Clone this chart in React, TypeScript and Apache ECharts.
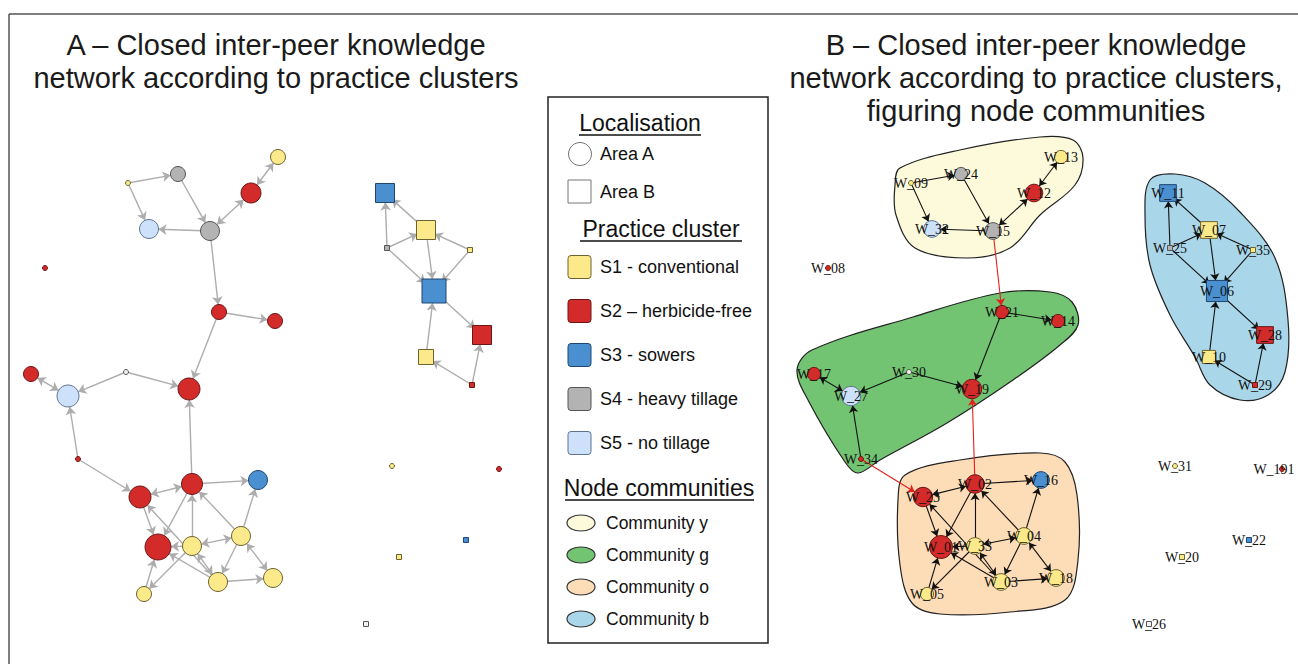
import { useEffect, useRef } from "react";
import * as echarts from "echarts";

// [id, practice cluster, localisation area, x, y, weight]
type NodeRow = [string, string, string, number, number, number];

const NODES: NodeRow[] = [
  ["W_09", "S1", "A", 128, 183, 5],
  ["W_24", "S4", "A", 178, 174, 15],
  ["W_13", "S1", "A", 278, 157, 15],
  ["W_12", "S2", "A", 251, 193, 20],
  ["W_32", "S5", "A", 149, 229, 19],
  ["W_15", "S4", "A", 210, 231, 19],
  ["W_08", "S2", "A", 45, 268, 5],
  ["W_21", "S2", "A", 219, 312, 15],
  ["W_14", "S2", "A", 275, 321, 15],
  ["W_17", "S2", "A", 31, 374, 15],
  ["W_30", "NA", "A", 126, 372, 5],
  ["W_27", "S5", "A", 68, 396, 22],
  ["W_19", "S2", "A", 189, 389, 22],
  ["W_34", "S2", "A", 78, 459, 5],
  ["W_23", "S2", "A", 140, 497, 22],
  ["W_02", "S2", "A", 192, 484, 21],
  ["W_16", "S3", "A", 258, 480, 19],
  ["W_01", "S2", "A", 158, 547, 26],
  ["W_33", "S1", "A", 192, 546, 19],
  ["W_04", "S1", "A", 241, 536, 19],
  ["W_03", "S1", "A", 218, 582, 19],
  ["W_18", "S1", "A", 273, 578, 19],
  ["W_05", "S1", "A", 144, 594, 15],
  ["W_11", "S3", "B", 385, 193, 19],
  ["W_07", "S1", "B", 426, 230, 19],
  ["W_25", "S4", "B", 387, 248, 5],
  ["W_35", "S1", "B", 470, 250, 5],
  ["W_06", "S3", "B", 434, 291, 24],
  ["W_28", "S2", "B", 482, 335, 19],
  ["W_10", "S1", "B", 426, 357, 15],
  ["W_29", "S2", "B", 472, 385, 5],
  ["W_31", "S1", "A", 392, 466, 5],
  ["W_191", "S2", "A", 499, 469, 5],
  ["W_22", "S3", "B", 466, 540, 5],
  ["W_20", "S1", "B", 399, 557, 5],
  ["W_26", "NA", "B", 366, 624, 5],
];

// [source, target, bidirectional, between communities]
type EdgeRow = [string, string, number, number];
const EDGES: EdgeRow[] = [
  ["W_09", "W_24", 0, 0],
  ["W_09", "W_32", 0, 0],
  ["W_24", "W_15", 0, 0],
  ["W_15", "W_32", 0, 0],
  ["W_12", "W_15", 1, 0],
  ["W_13", "W_12", 1, 0],
  ["W_15", "W_21", 0, 1],
  ["W_21", "W_14", 0, 0],
  ["W_21", "W_19", 0, 0],
  ["W_30", "W_19", 0, 0],
  ["W_30", "W_27", 0, 0],
  ["W_27", "W_17", 1, 0],
  ["W_34", "W_27", 0, 0],
  ["W_34", "W_23", 0, 1],
  ["W_02", "W_19", 0, 1],
  ["W_23", "W_02", 1, 0],
  ["W_02", "W_16", 0, 0],
  ["W_23", "W_01", 0, 0],
  ["W_02", "W_01", 0, 0],
  ["W_33", "W_02", 0, 0],
  ["W_33", "W_01", 0, 0],
  ["W_33", "W_04", 1, 0],
  ["W_04", "W_02", 0, 0],
  ["W_04", "W_16", 0, 0],
  ["W_04", "W_03", 0, 0],
  ["W_04", "W_18", 1, 0],
  ["W_03", "W_18", 0, 0],
  ["W_03", "W_23", 0, 0],
  ["W_33", "W_03", 1, 0],
  ["W_05", "W_01", 0, 0],
  ["W_33", "W_05", 0, 0],
  ["W_03", "W_01", 0, 0],
  ["W_07", "W_11", 0, 0],
  ["W_25", "W_11", 0, 0],
  ["W_25", "W_07", 0, 0],
  ["W_35", "W_07", 0, 0],
  ["W_25", "W_06", 0, 0],
  ["W_07", "W_06", 0, 0],
  ["W_35", "W_06", 0, 0],
  ["W_06", "W_28", 0, 0],
  ["W_10", "W_06", 0, 0],
  ["W_29", "W_10", 0, 0],
  ["W_29", "W_28", 0, 0],
];

// community outlines (same coordinates as the nodes)
const HULL_Y: number[][] = [
  [117, 168], [177, 150], [257, 137], [290, 140], [300, 158], [292, 185], [257, 215],
  [227, 248], [184, 258], [132, 248], [113, 215], [112, 185],
];
const HULL_G: number[][] = [
  [14, 370], [29, 350], [130, 317], [217, 293], [267, 292], [289, 302], [295, 325],
  [277, 345], [230, 380], [164, 423], [97, 460], [75, 473], [62, 462], [25, 400],
];
const HULL_O: number[][] = [
  [122, 475], [177, 460], [257, 453], [282, 462], [294, 495], [295, 560], [282, 600],
  [227, 612], [157, 614], [129, 603], [117, 565], [115, 500],
];
const HULL_B: number[][] = [
  [367, 180], [392, 174], [422, 183], [457, 212], [492, 258], [505, 320], [502, 372],
  [485, 395], [457, 400], [427, 385], [412, 357], [387, 315], [367, 265], [362, 215],
];

const TITLE_A = "A – Closed inter-peer knowledge\nnetwork according to practice clusters";
const TITLE_B =
  "B – Closed inter-peer knowledge\nnetwork according to practice clusters,\nfiguring node communities";
const AREA_LABELS = ["Area A", "Area B"];
const CLUSTER_KEYS = ["S1", "S2", "S3", "S4", "S5"];
const CLUSTER_LABELS = [
  "S1 - conventional",
  "S2 – herbicide-free",
  "S3 - sowers",
  "S4 - heavy tillage",
  "S5 - no tillage",
];
const COMMUNITY_LABELS = ["Community y", "Community g", "Community o", "Community b"];

const COLORS: Record<string, string> = {
  S1: "#fce98a",
  S2: "#d32a2a",
  S3: "#4a8fd0",
  S4: "#b3b3b3",
  S5: "#cde2fa",
  NA: "#f0f0f0",
};
const BORDERS: Record<string, string> = {
  S1: "#6b6230",
  S2: "#6a1717",
  S3: "#1f4670",
  S4: "#555555",
  S5: "#5d7390",
  NA: "#555555",
};
const HULL_COLORS = ["#fdfadc", "#72c472", "#fddcb8", "#a9d6e8"];

export default function App() {
  const ref = useRef<HTMLDivElement>(null);

  useEffect(() => {
    const chart = echarts.init(ref.current!, null, { renderer: "svg" });
    const sans = "'Liberation Sans', Arial, sans-serif";
    const serif = "'Liberation Serif', 'Times New Roman', serif";

    const mkNodes = (scale: number, label: boolean) =>
      NODES.map(([id, cl, area, x, y, w]) => ({
        name: id,
        value: [x, y],
        symbol: area === "A" ? "circle" : "rect",
        symbolSize: w <= 5 ? w : w * scale,
        itemStyle: { color: COLORS[cl], borderColor: BORDERS[cl], borderWidth: 1 },
        label: { show: label, offset: x > 490 ? [-8, 0] : [0, 0] },
      }));
    const mkLinks = (plain: string, inter: string) =>
      EDGES.map(([s, t, bi, ic]) => ({
        source: s,
        target: t,
        symbol: bi ? ["arrow", "arrow"] : ["none", "arrow"],
        lineStyle: { color: ic ? inter : plain },
      }));

    const hulls = [HULL_Y, HULL_G, HULL_O, HULL_B];

    const graphic: any[] = [
      { type: "line", shape: { x1: 9, y1: 14, x2: 1298, y2: 14 }, style: { stroke: "#555", lineWidth: 1.5 } },
      { type: "line", shape: { x1: 9, y1: 14, x2: 9, y2: 664 }, style: { stroke: "#555", lineWidth: 1.5 } },
      {
        type: "text",
        x: 276,
        y: 28,
        style: { text: TITLE_A, font: `29px ${sans}`, fill: "#1a1a1a", align: "center", verticalAlign: "top", lineHeight: 33 },
      },
      {
        type: "text",
        x: 1036,
        y: 28,
        style: { text: TITLE_B, font: `29px ${sans}`, fill: "#1a1a1a", align: "center", verticalAlign: "top", lineHeight: 33 },
      },
      { type: "rect", shape: { x: 548, y: 97, width: 220, height: 546 }, style: { fill: "#fff", stroke: "#222", lineWidth: 1.5 } },
      { type: "text", x: 640, y: 123, style: { text: "Localisation", font: `23px ${sans}`, fill: "#111", align: "center", verticalAlign: "middle" } },
      { type: "line", shape: { x1: 579, y1: 135, x2: 701, y2: 135 }, style: { stroke: "#111", lineWidth: 1.3 } },
      { type: "circle", shape: { cx: 580, cy: 154, r: 11.5 }, style: { fill: "#fff", stroke: "#777", lineWidth: 1 } },
      { type: "rect", shape: { x: 568, y: 180, width: 23, height: 23 }, style: { fill: "#fff", stroke: "#777", lineWidth: 1 } },
      { type: "text", x: 661, y: 229, style: { text: "Practice cluster", font: `23px ${sans}`, fill: "#111", align: "center", verticalAlign: "middle" } },
      { type: "line", shape: { x1: 580, y1: 241, x2: 742, y2: 241 }, style: { stroke: "#111", lineWidth: 1.3 } },
      { type: "text", x: 659, y: 488, style: { text: "Node communities", font: `23px ${sans}`, fill: "#111", align: "center", verticalAlign: "middle" } },
      { type: "line", shape: { x1: 565, y1: 500, x2: 754, y2: 500 }, style: { stroke: "#111", lineWidth: 1.3 } },
    ];
    AREA_LABELS.forEach((t, i) =>
      graphic.push({
        type: "text",
        x: 600,
        y: 154 + i * 38,
        style: { text: t, font: `18px ${sans}`, fill: "#111", align: "left", verticalAlign: "middle" },
      })
    );
    CLUSTER_LABELS.forEach((t, i) => {
      const cy = 267 + i * 44;
      graphic.push({
        type: "rect",
        shape: { x: 568, y: cy - 11.5, width: 23, height: 23, r: 3 },
        style: { fill: COLORS[CLUSTER_KEYS[i]], stroke: BORDERS[CLUSTER_KEYS[i]], lineWidth: 1 },
      });
      graphic.push({
        type: "text",
        x: 600,
        y: cy,
        style: { text: t, font: `18px ${sans}`, fill: "#111", align: "left", verticalAlign: "middle" },
      });
    });
    COMMUNITY_LABELS.forEach((t, i) => {
      const cy = 523 + i * 32;
      graphic.push({
        type: "ellipse",
        shape: { cx: 581, cy, rx: 14, ry: 8 },
        style: { fill: HULL_COLORS[i], stroke: "#333", lineWidth: 1.2 },
      });
      graphic.push({
        type: "text",
        x: 606,
        y: cy,
        style: { text: t, font: `17.5px ${sans}`, fill: "#111", align: "left", verticalAlign: "middle" },
      });
    });

    const axisX = { type: "value", min: 0, max: 515, show: false };
    const axisY = { type: "value", min: 0, max: 664, inverse: true, show: false };

    chart.setOption({
      animation: false,
      backgroundColor: "#fff",
      grid: [
        { left: 0, top: 0, width: 515, height: 664 },
        { left: 783, top: 0, width: 515, height: 664 },
      ],
      xAxis: [
        { ...axisX, gridIndex: 0 },
        { ...axisX, gridIndex: 1 },
      ],
      yAxis: [
        { ...axisY, gridIndex: 0 },
        { ...axisY, gridIndex: 1 },
      ],
      graphic,
      series: [
        {
          type: "custom",
          coordinateSystem: "cartesian2d",
          xAxisIndex: 1,
          yAxisIndex: 1,
          z: 1,
          silent: true,
          clip: false,
          data: hulls.map((_, i) => [i, 0]),
          renderItem: (params: any, api: any) => {
            const pts = hulls[params.dataIndex].map((p) => api.coord(p));
            return {
              type: "polygon",
              shape: { points: pts, smooth: 0.35 },
              style: { fill: HULL_COLORS[params.dataIndex], stroke: "#222", lineWidth: 1.2 },
            };
          },
        },
        {
          type: "graph",
          coordinateSystem: "cartesian2d",
          xAxisIndex: 0,
          yAxisIndex: 0,
          z: 3,
          silent: true,
          data: mkNodes(1, false),
          links: mkLinks("#adadad", "#adadad"),
          edgeSymbolSize: 8,
          lineStyle: { width: 1.4, opacity: 1, curveness: 0 },
          label: { show: false },
          emphasis: { disabled: true },
        },
        {
          type: "graph",
          coordinateSystem: "cartesian2d",
          xAxisIndex: 1,
          yAxisIndex: 1,
          z: 3,
          silent: true,
          data: mkNodes(0.88, true),
          links: mkLinks("#111111", "#e3201b"),
          edgeSymbolSize: 7,
          lineStyle: { width: 1.1, opacity: 1, curveness: 0 },
          label: {
            show: true,
            position: "inside",
            formatter: "{b}",
            fontFamily: serif,
            fontSize: 14,
            color: "#111",
          },
          emphasis: { disabled: true },
        },
      ],
    });

    return () => chart.dispose();
  }, []);

  return <div ref={ref} style={{ position: "fixed", left: 0, top: 0, width: 1298, height: 664 }} />;
}
